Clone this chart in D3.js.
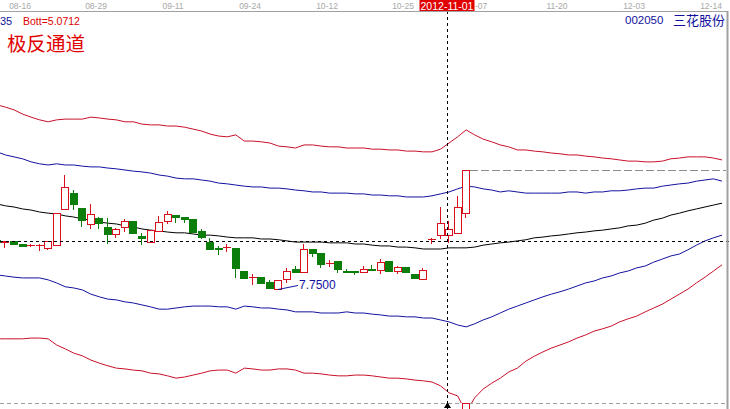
<!DOCTYPE html>
<html><head><meta charset="utf-8">
<script src="https://cdn.jsdelivr.net/npm/d3@7"></script>
<style>html,body{margin:0;padding:0;background:#fff;overflow:hidden}svg{display:block}</style>
</head><body><svg id="c" width="730" height="409"></svg>
<script>
const dates = ["08-13","08-14","08-15","08-16","08-17","08-20","08-21","08-22","08-23","08-24","08-27","08-28","08-29","08-30","08-31",
"09-03","09-04","09-05","09-06","09-07","09-10","09-11","09-12","09-13","09-14","09-17","09-18","09-19","09-20","09-21","09-24","09-25","09-26","09-27","09-28",
"10-08","10-09","10-10","10-11","10-12","10-15","10-16","10-17","10-18","10-19","10-22","10-23","10-24","10-25","10-26","10-29","10-30","10-31",
"11-01","11-02","11-05","11-06","11-07","11-08","11-09","11-12","11-13","11-14","11-15","11-16","11-19","11-20","11-21","11-22","11-23","11-26","11-27","11-28","11-29","11-30",
"12-03","12-04","12-05","12-06","12-07","12-10","12-11","12-12","12-13","12-14","12-17"];

const tickLabels = ["08-16","08-29","09-11","09-24","10-12","10-25","11-07","11-20","12-03","12-14"];

const open = [9.03,8.99,9.01,8.93,8.90,8.90,8.83,8.90,9.84,10.25,
9.86,9.45,9.60,9.37,9.19,9.37,9.53,9.14,8.98,9.27,
9.53,9.68,9.63,9.58,9.27,8.98,8.83,8.84,8.83,8.23,
8.07,8.07,7.95,7.77,8.03,8.29,8.21,8.80,8.70,8.43,
8.49,8.24,8.23,8.21,8.27,8.26,8.49,8.23,8.34,8.16,
8.03,9.05,9.16,9.16,9.22,9.73];
const close = [8.98,9.00,8.93,8.88,8.91,8.91,9.01,9.73,10.41,9.97,
9.55,9.71,9.47,9.19,9.32,9.53,9.22,9.09,9.29,9.50,
9.71,9.63,9.58,9.24,9.11,8.80,8.80,8.85,8.31,8.05,
8.08,7.92,7.79,8.00,8.23,8.21,8.80,8.70,8.41,8.44,
8.29,8.21,8.21,8.29,8.25,8.47,8.23,8.34,8.21,8.05,
8.26,9.06,9.47,9.32,9.89,10.85];
const high = [9.04,9.01,9.01,8.93,8.93,8.92,9.01,9.73,10.72,10.33,
9.86,9.97,9.62,9.60,9.35,9.58,9.53,9.22,9.29,9.66,
9.79,9.68,9.63,9.58,9.32,9.09,8.88,8.93,8.83,8.23,
8.16,8.07,8.00,8.00,8.31,8.36,8.93,8.80,8.70,8.52,
8.49,8.29,8.23,8.36,8.39,8.54,8.49,8.36,8.34,8.16,
8.31,9.09,9.89,9.53,10.17,10.85];
const low = [8.97,8.85,8.93,8.88,8.88,8.77,8.80,8.90,9.84,9.84,
9.40,9.35,9.35,8.96,9.11,9.27,9.22,8.93,8.98,9.27,
9.47,9.50,9.50,9.24,9.09,8.80,8.67,8.75,8.07,8.05,
7.90,7.92,7.79,7.75,7.95,8.21,8.21,8.62,8.34,8.36,
8.21,8.21,8.16,8.21,8.25,8.18,8.23,8.18,8.21,8.05,
8.03,8.96,9.09,8.98,9.22,9.63];

const upperOuter = [12.54,12.48,12.41,12.30,12.22,12.15,12.10,12.15,12.17,12.17,
12.17,12.22,12.20,12.17,12.15,12.10,12.10,12.04,12.02,12.02,
11.99,11.99,11.96,11.91,11.86,11.78,11.73,11.71,11.76,11.60,
11.60,11.58,11.55,11.47,11.45,11.42,11.50,11.50,11.47,11.45,
11.45,11.42,11.42,11.42,11.39,11.39,11.37,11.37,11.34,11.34,
11.32,11.32,11.39,11.55,11.71,11.89,11.76,11.65,11.58,11.50,
11.45,11.37,11.37,11.34,11.32,11.29,11.27,11.24,11.24,11.21,
11.19,11.16,11.14,11.11,11.08,11.08,11.06,11.06,11.08,11.14,
11.16,11.19,11.19,11.19,11.16,11.11];
const upperInner = [11.32,11.24,11.19,11.14,11.06,11.01,10.98,11.01,10.98,10.98,
10.95,10.93,10.93,10.90,10.88,10.85,10.82,10.80,10.77,10.72,
10.69,10.64,10.62,10.62,10.59,10.56,10.51,10.49,10.46,10.43,
10.41,10.41,10.38,10.38,10.36,10.33,10.31,10.28,10.28,10.25,
10.25,10.25,10.23,10.23,10.20,10.20,10.18,10.18,10.15,10.15,
10.15,10.18,10.23,10.28,10.36,10.43,10.41,10.36,10.33,10.28,
10.31,10.28,10.25,10.25,10.25,10.25,10.25,10.28,10.28,10.25,
10.28,10.28,10.31,10.31,10.33,10.36,10.38,10.38,10.43,10.46,
10.49,10.51,10.56,10.59,10.62,10.56];
const middle = [9.97,9.92,9.89,9.84,9.81,9.76,9.73,9.71,9.66,9.63,
9.58,9.55,9.50,9.47,9.45,9.40,9.37,9.32,9.29,9.27,
9.24,9.22,9.22,9.19,9.16,9.16,9.14,9.11,9.09,9.09,
9.09,9.06,9.06,9.04,9.01,8.98,8.98,8.98,8.98,8.96,
8.96,8.96,8.93,8.93,8.90,8.88,8.88,8.85,8.85,8.83,
8.80,8.80,8.80,8.83,8.83,8.83,8.85,8.90,8.93,8.96,
8.98,9.01,9.04,9.09,9.11,9.14,9.16,9.19,9.22,9.24,
9.27,9.29,9.32,9.35,9.40,9.42,9.47,9.55,9.60,9.68,
9.73,9.79,9.84,9.89,9.94,9.99];
const lowerInner = [8.13,8.10,8.07,8.05,8.05,8.05,8.00,7.92,7.82,7.79,
7.74,7.63,7.56,7.50,7.48,7.43,7.40,7.35,7.30,7.24,
7.24,7.27,7.30,7.32,7.32,7.32,7.30,7.30,7.24,7.32,
7.30,7.27,7.27,7.24,7.22,7.17,7.17,7.17,7.14,7.14,
7.14,7.17,7.14,7.14,7.11,7.09,7.06,7.06,7.04,7.04,
7.01,7.01,6.96,6.91,6.83,6.78,6.86,6.96,7.04,7.14,
7.24,7.32,7.40,7.48,7.56,7.63,7.69,7.76,7.84,7.92,
7.97,8.05,8.10,8.18,8.23,8.31,8.36,8.46,8.54,8.62,
8.67,8.78,8.90,9.01,9.09,9.16];
const lowerOuter = [6.47,6.47,6.47,6.47,6.49,6.49,6.47,6.31,6.21,6.10,
6.03,5.92,5.84,5.77,5.71,5.69,5.66,5.64,5.58,5.56,
5.51,5.45,5.48,5.53,5.58,5.64,5.66,5.66,5.58,5.71,
5.69,5.66,5.66,5.69,5.69,5.66,5.58,5.58,5.56,5.53,
5.51,5.51,5.53,5.53,5.51,5.48,5.45,5.45,5.43,5.40,
5.38,5.35,5.25,5.07,4.99,4.57,4.94,5.17,5.32,5.45,
5.61,5.71,5.89,6.02,6.13,6.23,6.31,6.39,6.49,6.57,
6.67,6.73,6.80,6.91,6.99,7.06,7.17,7.27,7.37,7.50,
7.63,7.76,7.92,8.07,8.23,8.39];

const crossDate = "11-01", crossLabel = "2012-11-01", crossPrice = 9.02;
const markerDate = "11-05";
const bottLabel = "Bott=5.0712", cutLabel = "35";
const title = "极反通道", stockCode = "002050", stockName = "三花股份";

const RED = "#d8101e", LRED = "#c8102a", BLUE = "#12129e", GREEN = "#0a7d0a", GREY = "#a0a0a0";
const svg = d3.select("#c");
const x = d3.scaleBand().domain(dates).range([-7.3, 726.3]).paddingInner(0.2).paddingOuter(0.1);
const y = d3.scaleLinear().domain([15.0, 4.65]).range([10, 409]);
const cx = d => Math.round(x(d) + x.bandwidth() / 2);
const yr = v => Math.round(y(v)) + 0.5;

svg.append("rect").attr("width",730).attr("height",409).attr("fill","#fff");

const defs = svg.append("defs");
defs.append("clipPath").attr("id","plot").append("rect")
  .attr("x",0).attr("y",11).attr("width",726).attr("height",392);

const g = svg.append("g").attr("clip-path","url(#plot)");

// bands
const line = d3.line().x((v,i) => x(dates[i]) + x.bandwidth()/2).y(v => y(v));
[[upperOuter,LRED],[upperInner,BLUE],[middle,"#000"],[lowerInner,BLUE],[lowerOuter,LRED]].forEach(([arr,col]) => {
  g.append("path").attr("d", line(arr)).attr("fill","none").attr("stroke",col).attr("stroke-width",1);
});

// candles
const candles = open.map((o,i) => ({d: dates[i], o, c: close[i], h: high[i], l: low[i]}));
const cg = g.append("g");
candles.forEach(k => {
  const up = k.c >= k.o;
  const col = up ? RED : GREEN;
  const X = cx(k.d);
  cg.append("line").attr("x1",X-0.5).attr("x2",X-0.5).attr("y1",yr(k.h)-0.5).attr("y2",yr(k.l)+0.5)
    .attr("stroke",col).attr("stroke-width",1);
  const top = yr(Math.max(k.o,k.c)), bot = yr(Math.min(k.o,k.c));
  cg.append("rect").attr("x",X-4+0.5).attr("width",7).attr("y",top).attr("height",Math.max(0.01,bot-top))
    .attr("fill", up ? "#fff" : GREEN).attr("stroke",col).attr("stroke-width",1);
});

// highest price marker line
const maxH = d3.max(high), maxI = high.indexOf(maxH);
svg.append("line").attr("x1",cx(dates[maxI])+4).attr("x2",726).attr("y1",yr(maxH)).attr("y2",yr(maxH))
  .attr("stroke","#8c8c8c").attr("stroke-dasharray","8,3");

// low annotation
const minL = d3.min(low), minI = low.indexOf(minL);
const lx = cx(dates[minI]), ly = y(minL);
svg.append("line").attr("x1",lx).attr("y1",ly).attr("x2",lx+20).attr("y2",ly-4).attr("stroke",BLUE);
svg.append("text").attr("x",lx+21).attr("y",ly).text(minL.toFixed(4))
  .attr("font-family","Liberation Sans, Arial, sans-serif").attr("font-size",12).attr("fill",BLUE);

// bottom dashed line
svg.append("line").attr("x1",0).attr("x2",726).attr("y1",403.5).attr("y2",403.5)
  .attr("stroke",GREY).attr("stroke-dasharray","4,3");

// crosshair
const CX = cx(crossDate) - 1.5;
svg.append("line").attr("x1",CX).attr("x2",CX).attr("y1",11).attr("y2",409)
  .attr("stroke","#000").attr("stroke-dasharray","3,3");
svg.append("line").attr("x1",0).attr("x2",730).attr("y1",yr(crossPrice)).attr("y2",yr(crossPrice))
  .attr("stroke","#000").attr("stroke-dasharray","3,3");
svg.append("path").attr("d",`M${CX},402 L${CX-3.5},408 L${CX+3.5},408 Z`).attr("fill","#000");

// marker square
const MX = cx(markerDate);
svg.append("rect").attr("x",MX-4+0.5).attr("y",403.5).attr("width",7).attr("height",8)
  .attr("fill","#fff").attr("stroke",RED);

// axis + border
svg.append("line").attr("x1",0).attr("x2",727).attr("y1",11.5).attr("y2",11.5).attr("stroke",GREY);
svg.append("line").attr("x1",727.5).attr("x2",727.5).attr("y1",11).attr("y2",409).attr("stroke",GREY).attr("stroke-width",2);

// tick labels; the one hidden under the date box shows only its uncovered tail
const boxL = CX - 28, boxW = 55, boxR = boxL + boxW;
const tickFont = {family: "Liberation Sans, Arial, sans-serif", size: 8.5};
svg.append("g").selectAll("text").data(tickLabels).join("text")
  .each(function(d) {
    const t = d3.select(this);
    const c = cx(d) - 3;
    const covered = c - 10 < boxR && c + 10 > boxL;
    if (covered) t.attr("x", boxR + 0.5).attr("text-anchor","start").text(d.slice(2));
    else t.attr("x", c).attr("text-anchor","middle").text(d);
  })
  .attr("y", 9)
  .attr("font-family",tickFont.family).attr("font-size",tickFont.size).attr("fill","#a8a8a8");

svg.append("rect").attr("x",boxL).attr("y",0).attr("width",boxW).attr("height",11).attr("fill","#e00000");
svg.append("text").attr("x",CX-0.5).attr("y",9.5).attr("text-anchor","middle")
  .attr("font-family","Liberation Sans, Arial, sans-serif").attr("font-size",10.5).attr("fill","#fff").text(crossLabel);

// texts
svg.append("text").attr("x",0).attr("y",24.5).text(cutLabel)
  .attr("font-family","Liberation Sans, Arial, sans-serif").attr("font-size",11).attr("fill",BLUE);
svg.append("text").attr("x",23).attr("y",24.5).text(bottLabel)
  .attr("font-family","Liberation Sans, Arial, sans-serif").attr("font-size",10.5).attr("fill","#e00000");
svg.append("text").attr("x",7).attr("y",51).text(title)
  .attr("font-family","Noto Sans CJK SC, sans-serif").attr("font-size",19.5).attr("fill","#e00000");
svg.append("text").attr("x",625).attr("y",24).text(stockCode)
  .attr("font-family","Liberation Sans, Arial, sans-serif").attr("font-size",11.5).attr("fill",BLUE);
svg.append("text").attr("x",673).attr("y",24.5).text(stockName)
  .attr("font-family","Noto Sans CJK SC, sans-serif").attr("font-size",13).attr("fill",BLUE);
</script></body></html>
